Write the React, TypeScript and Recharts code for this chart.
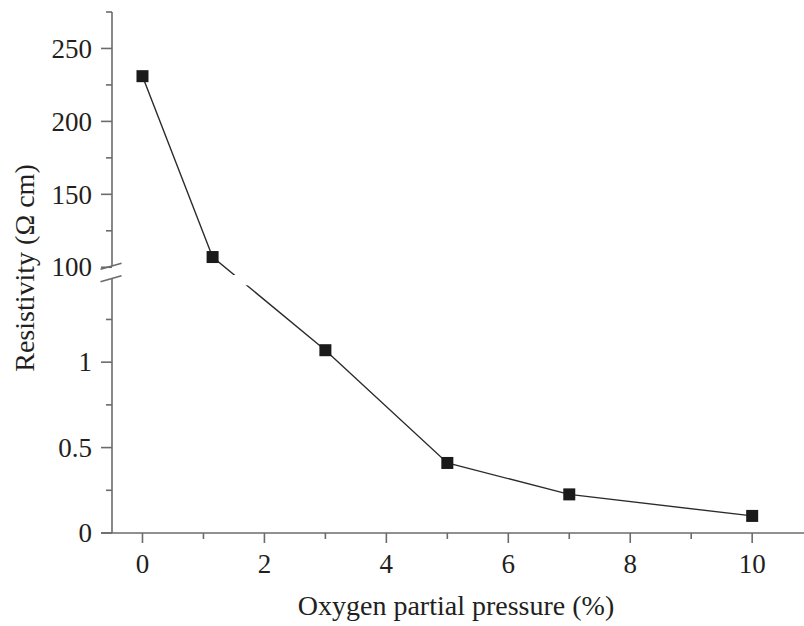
import { LineChart, Line, XAxis, YAxis, ReferenceArea, ReferenceLine } from 'recharts'

const pressure = [0, 1.15, 3, 5, 7, 10]
const resistivity = [231, 107, 1.07, 0.41, 0.226, 0.1]

const xMajorTicks = [0, 2, 4, 6, 8, 10]
const xMinorTicks = [1, 3, 5, 7, 9]
const yMajorTicks = [0, 0.5, 1, 100, 150, 200, 250]
const yMinorTicks = [0.25, 0.75, 1.25, 125, 175, 225, 275]

// broken y axis: 0..1.5 below the break, 100..275 above it (compressed)
const LOW_TOP = 1.5
const HIGH_BASE = 100
const HIGH_START = 1.5556
const HIGH_STEP = 0.008538
const axisPos = (v: number) => (v <= LOW_TOP ? v : HIGH_START + (v - HIGH_BASE) * HIGH_STEP)

const FONT = '"Liberation Serif", "DejaVu Serif", serif'
const TEXT = '#231f20'
const AXIS = '#6b6b6b'

const data = pressure.map((x, i) => ({ x, y: axisPos(resistivity[i]), raw: resistivity[i] }))

function XTick({ x, y, payload }: any) {
    const major = xMajorTicks.includes(payload.value)
    return (
        <g>
            <line x1={x} x2={x} y1={y} y2={y + (major ? 10 : 6)} stroke={AXIS} strokeWidth={1.6} />
            {major && (
                <text x={x} y={y + 40} textAnchor="middle" fontFamily={FONT} fontSize={27} fill={TEXT}>
                    {payload.value}
                </text>
            )}
        </g>
    )
}

function YTick({ x, y, payload }: any) {
    const idx = yMajorTicks.findIndex((t) => Math.abs(axisPos(t) - payload.value) < 1e-6)
    const major = idx >= 0
    return (
        <g>
            <line x1={x} x2={x - (major ? 11 : 6)} y1={y} y2={y} stroke={AXIS} strokeWidth={1.6} />
            {major && (
                <text x={x - 20} y={y} dy="0.34em" textAnchor="end" fontFamily={FONT} fontSize={27} fill={TEXT}>
                    {yMajorTicks[idx]}
                </text>
            )}
        </g>
    )
}

const renderDot = (p: any) => (
    <rect key={`dot-${p.index}`} x={p.cx - 6} y={p.cy - 6} width={12} height={12} fill="#1a1a1a" />
)

export default function App() {
    return (
        <div style={{ position: 'absolute', left: 0, top: 0, background: '#fff' }}>
            <LineChart width={804} height={626} data={data} margin={{ top: 12, right: 0, bottom: 33, left: 52 }}>
                <XAxis
                    dataKey="x"
                    type="number"
                    domain={[-0.5, 10.85]}
                    ticks={[...xMajorTicks, ...xMinorTicks]}
                    interval={0}
                    height={60}
                    tickSize={0}
                    tickMargin={0}
                    tickLine={false}
                    axisLine={{ stroke: AXIS, strokeWidth: 1.6 }}
                    tick={<XTick />}
                    label={{
                        content: () => (
                            <text x={456} y={615} textAnchor="middle" fontFamily={FONT} fontSize={28} fill={TEXT}>
                                Oxygen partial pressure (%)
                            </text>
                        ),
                    }}
                />
                <YAxis
                    type="number"
                    domain={[0, axisPos(275)]}
                    ticks={[...yMajorTicks, ...yMinorTicks].map(axisPos)}
                    interval={0}
                    width={60}
                    tickSize={0}
                    tickMargin={0}
                    tickLine={false}
                    axisLine={false}
                    tick={<YTick />}
                    label={{
                        content: () => (
                            <text
                                x={34}
                                y={268}
                                transform="rotate(-90 34 268)"
                                textAnchor="middle"
                                fontFamily={FONT}
                                fontSize={28}
                                fill={TEXT}
                            >
                                Resistivity (Ω cm)
                            </text>
                        ),
                    }}
                />
                <Line
                    dataKey="y"
                    stroke="#2b2b2b"
                    strokeWidth={1.4}
                    dot={renderDot}
                    activeDot={false}
                    isAnimationActive={false}
                />
                {/* gap in the curve where it crosses the axis break */}
                <ReferenceArea
                    x1={0.6}
                    x2={2.5}
                    y1={1.45}
                    y2={1.51}
                    fill="#fff"
                    fillOpacity={1}
                    stroke="none"
                    zIndex={1000}
                />
                {/* y axis drawn in two pieces around the break */}
                <ReferenceLine
                    segment={[{ x: -0.5, y: 0 }, { x: -0.5, y: 1.4912 }]}
                    stroke={AXIS}
                    strokeWidth={1.6}
                    ifOverflow="visible"
                    zIndex={1100}
                />
                <ReferenceLine
                    segment={[{ x: -0.5, y: 1.5614 }, { x: -0.5, y: axisPos(275) }]}
                    stroke={AXIS}
                    strokeWidth={1.6}
                    ifOverflow="visible"
                    zIndex={1100}
                />
                <ReferenceLine
                    segment={[{ x: -0.68, y: 0 }, { x: -0.5, y: 0 }]}
                    stroke={AXIS}
                    strokeWidth={1.6}
                    ifOverflow="visible"
                    zIndex={1100}
                />
                {/* break marks */}
                <ReferenceLine
                    segment={[{ x: -0.689, y: 1.5439 }, { x: -0.344, y: 1.5789 }]}
                    stroke={AXIS}
                    strokeWidth={1.6}
                    ifOverflow="visible"
                    zIndex={1100}
                />
                <ReferenceLine
                    segment={[{ x: -0.689, y: 1.4708 }, { x: -0.344, y: 1.5058 }]}
                    stroke={AXIS}
                    strokeWidth={1.6}
                    ifOverflow="visible"
                    zIndex={1100}
                />
            </LineChart>
        </div>
    )
}
